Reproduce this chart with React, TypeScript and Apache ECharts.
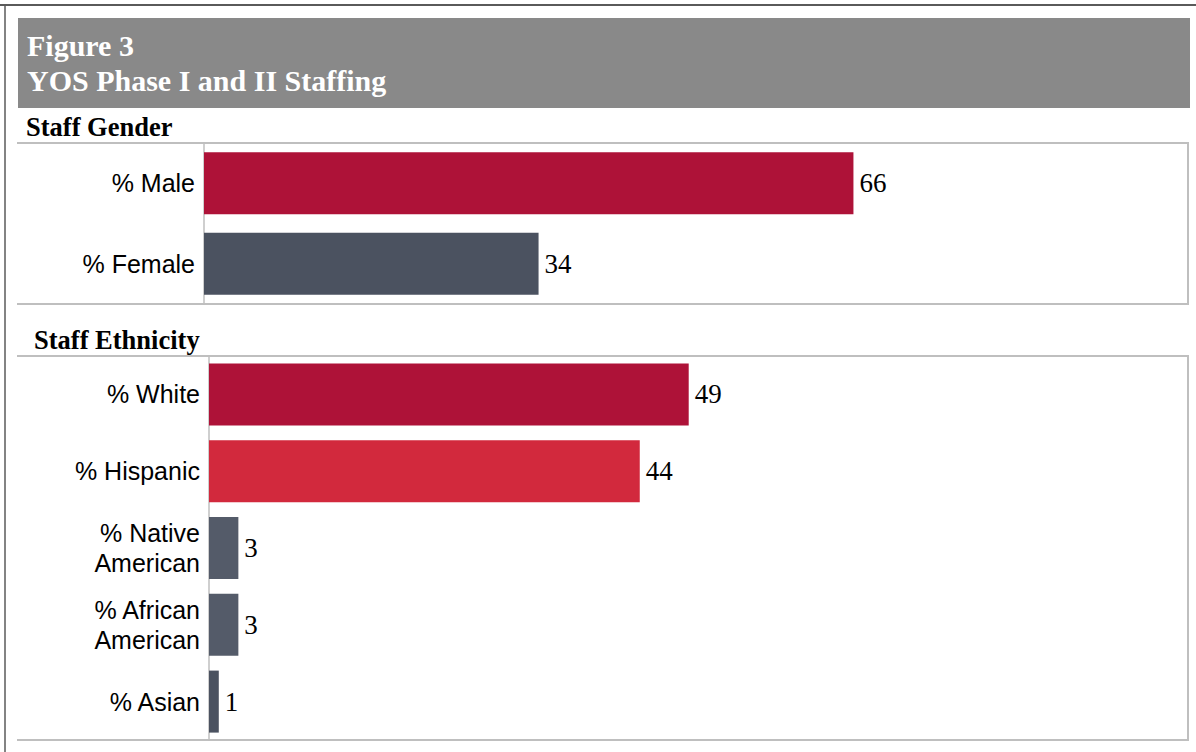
import React, { useEffect, useRef } from "react";
import * as echarts from "echarts";

const genderCategories = ["% Male", "% Female"];
const genderValues = [66, 34];
const genderColors = ["#AE1238", "#4B5260"];

const ethnicityCategories = ["% White", "% Hispanic", "% Native\nAmerican", "% African\nAmerican", "% Asian"];
const ethnicityValues = [49, 44, 3, 3, 1];
const ethnicityColors = ["#AE1238", "#D2293D", "#545B69", "#545B69", "#4B5260"];

const titleLines = ["Figure 3", "YOS Phase I and II Staffing"];
const sectionTitles = ["Staff Gender", "Staff Ethnicity"];

const W = 1196;
const H = 752;

export default function App() {
  const ref = useRef<HTMLDivElement>(null);
  useEffect(() => {
    document.body.style.margin = "0";
    const chart = echarts.init(ref.current!, null, { renderer: "svg" });
    const serif = "Liberation Serif";
    const sans = "Liberation Sans";
    const boxColor = "#BFBFBF";

    const g1 = { left: 204, top: 143, width: 984, height: 161 };
    const g2 = { left: 209, top: 356, width: 979, height: 384 };

    const labelStyle = {
      show: true,
      position: "right",
      distance: 6,
      fontFamily: serif,
      fontSize: 27,
      color: "#000",
    };

    const option: any = {
      animation: false,
      backgroundColor: "#fff",
      grid: [
        { left: g1.left, top: g1.top, width: g1.width, height: g1.height },
        { left: g2.left, top: g2.top, width: g2.width, height: g2.height },
      ],
      xAxis: [
        { type: "value", gridIndex: 0, min: 0, max: 100, show: false },
        { type: "value", gridIndex: 1, min: 0, max: 100, show: false },
      ],
      yAxis: [
        {
          type: "category",
          gridIndex: 0,
          inverse: true,
          data: genderCategories,
          axisLine: { show: true, lineStyle: { color: boxColor, width: 1.5 } },
          axisTick: { show: false },
          axisLabel: { fontFamily: sans, fontSize: 25, color: "#000", margin: 9 },
        },
        {
          type: "category",
          gridIndex: 1,
          inverse: true,
          data: ethnicityCategories,
          axisLine: { show: true, lineStyle: { color: boxColor, width: 1.5 } },
          axisTick: { show: false },
          axisLabel: { fontFamily: sans, fontSize: 25, color: "#000", margin: 9, lineHeight: 30 },
        },
      ],
      series: [
        {
          type: "bar",
          xAxisIndex: 0,
          yAxisIndex: 0,
          barWidth: 62,
          data: genderValues.map((v, i) => ({ value: v, itemStyle: { color: genderColors[i] } })),
          label: labelStyle,
        },
        {
          type: "bar",
          xAxisIndex: 1,
          yAxisIndex: 1,
          barWidth: 62,
          data: ethnicityValues.map((v, i) => ({ value: v, itemStyle: { color: ethnicityColors[i] } })),
          label: labelStyle,
        },
      ],
      graphic: [
        // outer frame
        { type: "line", shape: { x1: 0, y1: 5, x2: W, y2: 5 }, style: { stroke: "#5A5A5A", lineWidth: 2 } },
        { type: "line", shape: { x1: 5, y1: 5, x2: 5, y2: H }, style: { stroke: "#5A5A5A", lineWidth: 1.5 } },
        // title bar
        { type: "rect", shape: { x: 18, y: 18, width: 1172, height: 90 }, style: { fill: "#898989" } },
        {
          type: "text",
          x: 27,
          y: 45,
          style: { text: titleLines[0], fontFamily: serif, fontWeight: "bold", fontSize: 30, fill: "#fff", verticalAlign: "middle" },
        },
        {
          type: "text",
          x: 27,
          y: 80,
          style: { text: titleLines[1], fontFamily: serif, fontWeight: "bold", fontSize: 30, fill: "#fff", verticalAlign: "middle" },
        },
        // section titles
        {
          type: "text",
          x: 26,
          y: 127,
          style: { text: sectionTitles[0], fontFamily: serif, fontWeight: "bold", fontSize: 26.5, fill: "#000", verticalAlign: "middle" },
        },
        {
          type: "text",
          x: 34,
          y: 340,
          style: { text: sectionTitles[1], fontFamily: serif, fontWeight: "bold", fontSize: 26.5, fill: "#000", verticalAlign: "middle" },
        },
        // panel boxes (top, right, bottom)
        {
          type: "polyline",
          shape: { points: [[17, g1.top], [1188, g1.top], [1188, g1.top + g1.height], [17, g1.top + g1.height]] },
          style: { stroke: boxColor, lineWidth: 2, fill: null },
        },
        {
          type: "polyline",
          shape: { points: [[17, g2.top], [1188, g2.top], [1188, g2.top + g2.height], [17, g2.top + g2.height]] },
          style: { stroke: boxColor, lineWidth: 2, fill: null },
        },
      ],
    };
    chart.setOption(option);
    return () => chart.dispose();
  }, []);
  return <div ref={ref} style={{ position: "absolute", left: 0, top: 0, width: W, height: H }} />;
}
